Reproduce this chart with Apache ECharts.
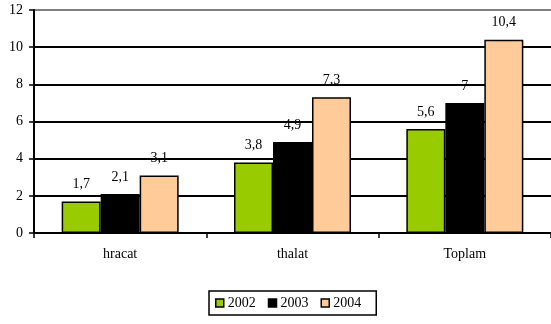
<!DOCTYPE html>
<html>
<head>
<meta charset="utf-8">
<script src="https://cdn.jsdelivr.net/npm/echarts@6/dist/echarts.min.js"></script>
<style>
  html, body { margin: 0; padding: 0; background: #fff; }
  #chart { width: 551px; height: 324px; }
</style>
</head>
<body>
<div id="chart"></div>
<script>
// veriler
const categories = ['hracat', 'thalat', 'Toplam'];
const years = ['2002', '2003', '2004'];
const values2002 = [1.7, 3.8, 5.6];
const values2003 = [2.1, 4.9, 7];
const values2004 = [3.1, 7.3, 10.4];
const colors = ['#99cc00', '#000000', '#ffcc99'];

const font = 'Liberation Serif, Times New Roman, serif';

function makeSeries(name, data, color) {
  return {
    name: name,
    type: 'bar',
    data: data,
    barWidth: 39,
    barGap: '0%',
    itemStyle: { color: color, borderColor: '#000', borderWidth: 1.5 },
    label: {
      show: true,
      position: 'top',
      distance: 10,
      color: '#000',
      fontFamily: font,
      fontSize: 14,
      formatter: p => String(p.value).replace('.', ',')
    }
  };
}

const chart = echarts.init(document.getElementById('chart'));
chart.setOption({
  animation: false,
  textStyle: { fontFamily: font },
  grid: { left: 34, right: -3, top: 10, bottom: 91 },
  legend: {
    left: 209,
    top: 291,
    data: years,
    itemWidth: 8,
    itemHeight: 8,
    itemGap: 12,
    icon: 'rect',
    borderColor: '#000',
    borderWidth: 1.5,
    padding: [5, 15, 5, 6],
    textStyle: { color: '#000', fontFamily: font, fontSize: 14, padding: [0, 0, 0, -1] },
    itemStyle: { borderColor: '#000', borderWidth: 1.5 }
  },
  xAxis: {
    type: 'category',
    data: categories,
    axisLine: { lineStyle: { color: '#000', width: 2 } },
    axisTick: { show: true, alignWithLabel: false, length: 5, lineStyle: { color: '#000', width: 1.5 } },
    axisLabel: { color: '#000', fontFamily: font, fontSize: 14, margin: 14 }
  },
  yAxis: {
    type: 'value',
    min: 0,
    max: 12,
    interval: 2,
    axisLine: { show: true, lineStyle: { color: '#000', width: 2 } },
    axisTick: { show: true, length: 5, lineStyle: { color: '#000', width: 1.5 } },
    axisLabel: { color: '#000', fontFamily: font, fontSize: 14, margin: 11 },
    splitLine: {
      show: true,
      lineStyle: {
        color: ['#000', '#000', '#000', '#000', '#000', '#000', '#808080'],
        width: 2
      }
    }
  },
  series: [
    makeSeries(years[0], values2002, colors[0]),
    makeSeries(years[1], values2003, colors[1]),
    makeSeries(years[2], values2004, colors[2])
  ]
});
</script>
</body>
</html>
